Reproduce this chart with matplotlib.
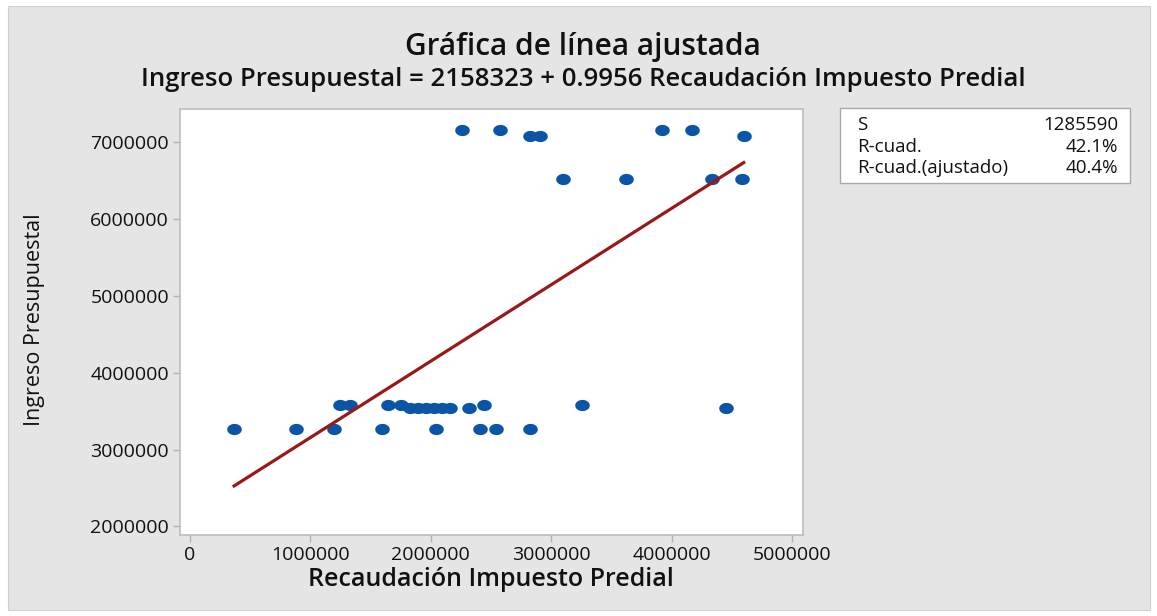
import numpy as np
import matplotlib
matplotlib.use("Agg")
import matplotlib.pyplot as plt
from matplotlib.patches import Rectangle
from matplotlib.path import Path

plt.rcParams["font.family"] = ["Open Sans", "DejaVu Sans"]

# Recaudación Impuesto Predial (x) and Ingreso Presupuestal (y)
recaudacion = [
  2257000, 2575000, 3918000, 4167000,
  2823000, 2906000, 4598000,
  3097000, 3619000, 4333000, 4581000,
  1248000, 1331000, 1646000, 1754000, 2442000, 3255000,
  1828000, 1895000, 1961000, 2027000, 2094000, 2160000, 2318000, 4448000,
  369000, 883000, 1198000, 1596000, 2044000, 2409000, 2541000, 2823000,
]
ingreso = [
  7160000, 7160000, 7160000, 7160000,
  7080000, 7080000, 7080000,
  6520000, 6520000, 6520000, 6520000,
  3580000, 3580000, 3580000, 3580000, 3580000, 3580000,
  3540000, 3540000, 3540000, 3540000, 3540000, 3540000, 3540000, 3540000,
  3270000, 3270000, 3270000, 3270000, 3270000, 3270000, 3270000, 3270000,
]

INTERCEPT = 2158323
SLOPE = 0.9956

stat_names = ["S", "R-cuad.", "R-cuad.(ajustado)"]
stat_values = ["1285590", "42.1%", "40.4%"]

x_ticks = [0, 1000000, 2000000, 3000000, 4000000, 5000000]
y_ticks = [2000000, 3000000, 4000000, 5000000, 6000000, 7000000]

W, H = 1157, 616
fig = plt.figure(figsize=(W / 100, H / 100), dpi=100)
fig.patch.set_facecolor("white")

# gray panel behind everything
fig.patches.append(Rectangle((8 / W, 1 - 610 / H), (1150 - 8) / W, (610 - 6) / H,
                             transform=fig.transFigure, facecolor="#e5e5e5",
                             edgecolor="#d0d0d0", linewidth=0.8, zorder=-5))

ax = fig.add_axes([180 / W, 1 - 535 / H, (803 - 180) / W, (535 - 109) / H])
ax.set_zorder(1)
ax.set_facecolor("white")

# ellipse marker (picture is stretched horizontally)
t = np.linspace(0, 2 * np.pi, 40)
ellipse = Path(np.column_stack([1.3 * np.cos(t), np.sin(t)]), closed=True)

x = np.asarray(recaudacion, dtype=float)
y = np.asarray(ingreso, dtype=float)
ax.plot(x, y, linestyle="none", marker=ellipse, markersize=10.5,
        color="#0a55a5", markeredgewidth=0, zorder=3)

xf = np.array([x.min(), x.max()])
ax.plot(xf, INTERCEPT + SLOPE * xf, color="#9a1818", linewidth=2.3, zorder=4)

ax.set_xlim(-80000, 5090000)
ax.set_ylim(1887000, 7434000)
ax.set_xticks(x_ticks)
ax.set_yticks(y_ticks)
ax.set_xticklabels([str(v) for v in x_ticks])
ax.set_yticklabels([str(v) for v in y_ticks])
ax.tick_params(axis="both", direction="out", length=5, width=1, color="#b0b0b0",
               labelsize=14, labelcolor="#111111", pad=3)
for s in ax.spines.values():
  s.set_color("#bdbdbd")
  s.set_linewidth(1.2)

fig.text(583 / W, 1 - 47 / H, "Gráfica de línea ajustada", ha="center", va="center",
         fontsize=21.5, fontweight="semibold", color="#111111")
fig.text(583 / W, 1 - 79 / H,
         "Ingreso Presupuestal = 2158323 + 0.9956 Recaudación Impuesto Predial",
         ha="center", va="center", fontsize=18.5, fontweight="semibold", color="#111111")
fig.text(491 / W, 1 - 580 / H, "Recaudación Impuesto Predial", ha="center", va="center",
         fontsize=18, fontweight="semibold", color="#111111")
fig.text(35 / W, 1 - 320 / H, "Ingreso Presupuestal", ha="center", va="center",
         rotation=90, fontsize=15.5, color="#111111")

# stats box
fig.patches.append(Rectangle((840 / W, 1 - 183 / H), (1130 - 840) / W, (183 - 108) / H,
                             transform=fig.transFigure, facecolor="white",
                             edgecolor="#a8a8a8", linewidth=1.0, zorder=1))
for i, (name, val) in enumerate(zip(stat_names, stat_values)):
  yy = 1 - (125 + i * 21.5) / H
  fig.text(857 / W, yy, name, ha="left", va="center", fontsize=13.5, color="#111111")
  fig.text(1118 / W, yy, val, ha="right", va="center", fontsize=13.5, color="#111111")

fig.savefig("out.png", dpi=100, facecolor=fig.get_facecolor())
